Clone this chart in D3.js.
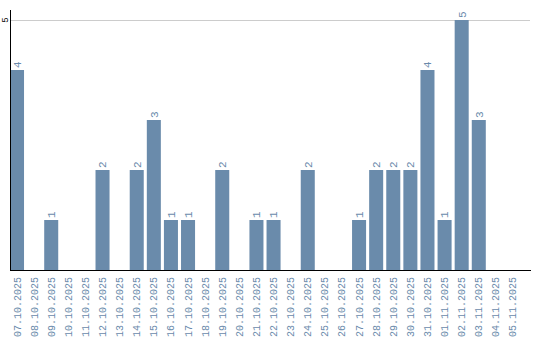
<!DOCTYPE html>
<html>
<head>
<script src="https://cdn.jsdelivr.net/npm/d3@7"></script>
<style>
  body { margin: 0; background: #fff; }
  text { font-family: "Liberation Mono", monospace; font-size: 10px; fill: #6a8aab; }
</style>
</head>
<body>
<script>
var dates = ["07.10.2025", "08.10.2025", "09.10.2025", "10.10.2025", "11.10.2025",
  "12.10.2025", "13.10.2025", "14.10.2025", "15.10.2025", "16.10.2025",
  "17.10.2025", "18.10.2025", "19.10.2025", "20.10.2025", "21.10.2025",
  "22.10.2025", "23.10.2025", "24.10.2025", "25.10.2025", "26.10.2025",
  "27.10.2025", "28.10.2025", "29.10.2025", "30.10.2025", "31.10.2025",
  "01.11.2025", "02.11.2025", "03.11.2025", "04.11.2025", "05.11.2025"];
var counts = [4, 0, 1, 0, 0, 2, 0, 2, 3, 1, 1, 0, 2, 0, 1, 1, 0, 2, 0, 0,
  1, 2, 2, 2, 4, 1, 5, 3, 0, 0];
var yTicks = [5];

var svg = d3.select("body").append("svg").attr("width", 540).attr("height", 340);

var x = d3.scaleBand().domain(dates).range([10, 520]).paddingInner(0.18).paddingOuter(0);
var y = d3.scaleLinear().domain([0, 5.2]).range([270, 10]);

// grid
svg.selectAll(".grid").data(yTicks).enter().append("line")
  .attr("x1", 10).attr("x2", 530)
  .attr("y1", function (d) { return y(d) + 0.5; })
  .attr("y2", function (d) { return y(d) + 0.5; })
  .attr("stroke", "#cccccc");

// bars
svg.selectAll(".bar").data(counts).enter().append("rect")
  .attr("x", function (d, i) { return x(dates[i]); })
  .attr("width", x.bandwidth())
  .attr("y", function (d) { return y(d); })
  .attr("height", function (d) { return y(0) - y(d); })
  .attr("fill", "#6a8bab");

// value labels
counts.forEach(function (d, i) {
  if (d <= 0) return;
  svg.append("text")
    .attr("transform", "translate(" + (x(dates[i]) + x.bandwidth() / 2) + "," + (y(d) - 2) + ") rotate(-90)")
    .attr("dy", "0.35em")
    .attr("text-anchor", "start")
    .style("font-size", "11px")
    .text(d);
});

// x axis
svg.append("line").attr("x1", 10).attr("x2", 531).attr("y1", 270.5).attr("y2", 270.5)
  .attr("stroke", "#000");
svg.selectAll(".xl").data(dates).enter().append("text")
  .attr("transform", function (d) {
    return "translate(" + (x(d) + x.bandwidth() / 2) + ",277) rotate(-90)";
  })
  .attr("dy", "0.35em")
  .attr("text-anchor", "end")
  .text(function (d) { return d; });

// y axis
svg.append("line").attr("x1", 10.5).attr("x2", 10.5).attr("y1", 10).attr("y2", 270)
  .attr("stroke", "#000");
svg.selectAll(".yl").data(yTicks).enter().append("text")
  .attr("transform", function (d) { return "translate(5," + y(d) + ") rotate(-90)"; })
  .attr("text-anchor", "middle")
  .attr("dy", "0.35em")
  .style("fill", "#000")
  .style("font-size", "9px")
  .text(function (d) { return d; });
</script>
</body>
</html>
